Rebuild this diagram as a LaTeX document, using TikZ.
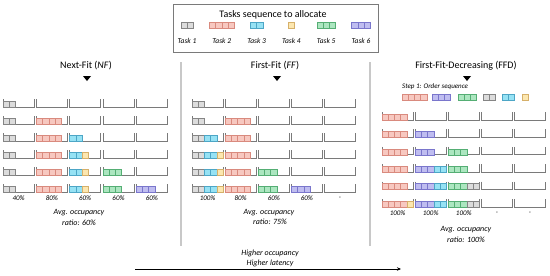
\documentclass[tikz,border=0pt]{standalone}
\usepackage{fontspec}
\setmainfont{Carlito}
\usetikzlibrary{arrows.meta}
\definecolor{t1f}{HTML}{DCDCDC}\definecolor{t1d}{HTML}{858585}
\definecolor{t2f}{HTML}{F7C8C0}\definecolor{t2d}{HTML}{D98A7E}
\definecolor{t3f}{HTML}{96E2F4}\definecolor{t3d}{HTML}{4DA6C6}
\definecolor{t4f}{HTML}{FCE7B0}\definecolor{t4d}{HTML}{D6B06A}
\definecolor{t5f}{HTML}{ACE6C0}\definecolor{t5d}{HTML}{55AE74}
\definecolor{t6f}{HTML}{BFBDF0}\definecolor{t6d}{HTML}{7A76CC}
\definecolor{binc}{HTML}{7A7A7A}
\definecolor{sepc}{HTML}{C8C8C8}
\newcommand\cellw{6.24}
\newcommand\pc[5]{\foreach \k in {1,...,#4}{\draw[cellline,draw=t#5d,fill=t#5f] ({#1+(#3+\k-1)*\cellw},{#2}) rectangle ++(\cellw,-6);}}
\newcommand\NF[5]{\pc{3+33.3*(#1-1)}{107+17*(#2-1)}{#3}{#4}{#5}}
\newcommand\FF[5]{\pc{192+33.1*(#1-1)}{107+17*(#2-1)}{#3}{#4}{#5}}
\newcommand\FFD[5]{\pc{382+33.1*(#1-1)}{120+17.4*(#2-1)}{#3}{#4}{#5}}
\tikzset{
  cellline/.style={line width=0.5pt},
  binline/.style={draw=binc,line width=0.7pt},
  sepline/.style={draw=sepc,line width=1.3pt},
  ttl/.style={font=\fontsize{10}{12}\selectfont,inner sep=0pt},
  lab/.style={font=\fontsize{7.5}{9}\selectfont\itshape,inner sep=0pt},
  pct/.style={font=\fontsize{7}{8}\selectfont\itshape,inner sep=0pt},
  note/.style={font=\fontsize{8}{9}\selectfont\itshape,inner sep=0pt},
  tri/.style={fill=black},
}
\begin{document}
\begin{tikzpicture}[x=1pt,y=-1pt]
\useasboundingbox (0,0) rectangle (550,276);
\fill[white] (0,0) rectangle (550,276);
% legend
\draw[draw=binc,line width=0.6pt] (173,4) rectangle (378,52);
\node[ttl] (legt) at (273,15) {Tasks sequence to allocate};
\foreach \t/\n in {1/2,2/4,3/2,4/1,5/3,6/3}{
  \pgfmathsetmacro\cx{187+34.8*(\t-1)}
  \pc{\cx-\n*\cellw/2}{28}{0}{\n}{\t}
  \node[lab] (leg\t) at (\cx,41) {Task \t};
}
% separators
\coordinate (s1a) at (181,62); \coordinate (s1b) at (181,246);
\coordinate (s2a) at (370,62); \coordinate (s2b) at (370,246);
\draw[sepline] (s1a) -- (s1b);
\draw[sepline] (s2a) -- (s2b);
% titles
\node[ttl] (nft) at (86,66) {Next-Fit (\textit{NF})};
\node[ttl] (fft) at (275,66) {First-Fit (\textit{FF})};
\node[ttl] (ffdt) at (466,66) {First-Fit-Decreasing (FFD)};
\foreach \x in {87,277,467}{\fill[tri] (\x-4,76) -- (\x+4,76) -- (\x,81) -- cycle;}
% bins
\foreach \i in {0,...,5}\foreach \j in {0,...,4}{
  \draw[binline] ({3+33.3*\j},{107+17*\i-8}) -- ++(0,8) -- ++(31.2,0) -- ++(0,-8);
  \draw[binline] ({192+33.1*\j},{107+17*\i-8}) -- ++(0,8) -- ++(31.2,0) -- ++(0,-8);
  \draw[binline] ({382+33.1*\j},{120+17.4*\i-8}) -- ++(0,8) -- ++(31.2,0) -- ++(0,-8);
}
% NF
\foreach \r in {1,...,6}{\NF{1}{\r}{0}{2}{1}}
\foreach \r in {2,...,6}{\NF{2}{\r}{0}{4}{2}}
\foreach \r in {3,...,6}{\NF{3}{\r}{0}{2}{3}}
\foreach \r in {4,...,6}{\NF{3}{\r}{2}{1}{4}}
\foreach \r in {5,6}{\NF{4}{\r}{0}{3}{5}}
\NF{5}{6}{0}{3}{6}
% FF
\foreach \r in {1,...,6}{\FF{1}{\r}{0}{2}{1}}
\foreach \r in {2,...,6}{\FF{2}{\r}{0}{4}{2}}
\foreach \r in {3,...,6}{\FF{1}{\r}{2}{2}{3}}
\foreach \r in {4,...,6}{\FF{1}{\r}{4}{1}{4}}
\foreach \r in {5,6}{\FF{3}{\r}{0}{3}{5}}
\FF{4}{6}{0}{3}{6}
% FFD
\node[pct,anchor=west] (step) at (402,87) {Step 1: Order sequence};
\pc{402}{100}{0}{4}{2}
\pc{432}{100}{0}{3}{6}
\pc{458}{100}{0}{3}{5}
\pc{483}{100}{0}{2}{1}
\pc{502}{100}{0}{2}{3}
\pc{522}{100}{0}{1}{4}
\foreach \r in {1,...,6}{\FFD{1}{\r}{0}{4}{2}}
\foreach \r in {2,...,6}{\FFD{2}{\r}{0}{3}{6}}
\foreach \r in {3,...,6}{\FFD{3}{\r}{0}{3}{5}}
\foreach \r in {4,...,6}{\FFD{2}{\r}{3}{2}{3}}
\foreach \r in {5,6}{\FFD{3}{\r}{3}{2}{1}}
\FFD{1}{6}{4}{1}{4}
% percentages
\foreach \j/\p in {0/40\%,1/80\%,2/60\%,3/60\%,4/60\%}{\node[pct] (nfp\j) at ({3+15.6+33.3*\j},198) {\p};}
\foreach \j/\p in {0/100\%,1/80\%,2/60\%,3/60\%,4/-}{\node[pct] (ffp\j) at ({192+15.6+33.1*\j},198) {\p};}
\foreach \j/\p in {0/100\%,1/100\%,2/100\%,3/-,4/-}{\node[pct] (ffdp\j) at ({382+15.6+33.1*\j},213) {\p};}
% averages
\node[note] (nfa) at (79,213) {Avg. occupancy};
\node[note] (nfr) at (79,223) {ratio: 60\%};
\node[note] (ffa) at (269,213) {Avg. occupancy};
\node[note] (ffr) at (270,222) {ratio: 75\%};
\node[note] (ffda) at (466,230) {Avg. occupancy};
\node[note] (ffdr) at (466,240) {ratio: 100\%};
% bottom arrow
\node[note] (ho) at (270,253) {Higher occupancy};
\node[note] (hl) at (270,263) {Higher latency};
\coordinate (aS) at (135,269); \coordinate (aE) at (401,269);
\draw[line width=0.7pt,-{Stealth[length=4pt,width=3.5pt]}] (aS) -- (aE);
\end{tikzpicture}
\end{document}
